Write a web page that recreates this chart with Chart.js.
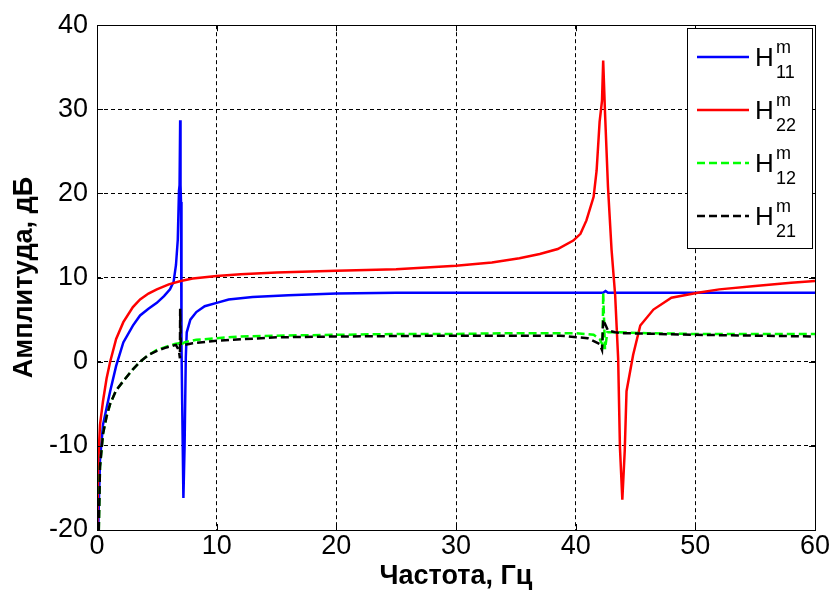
<!DOCTYPE html>
<html>
<head>
<meta charset="utf-8">
<script src="https://cdn.jsdelivr.net/npm/chart.js@4.4.0/dist/chart.umd.min.js"></script>
<style>
  body { margin: 0; background: #fff; }
  canvas { display: block; }
</style>
</head>
<body>
<canvas id="freq_chart" width="832" height="593"></canvas>
<script>
// frequency, Hz / amplitude, dB
var h11Freq = [0.1, 0.25, 0.5, 0.8, 1.1, 1.6, 2.2, 3, 3.6, 4.3, 5, 5.6, 6.1, 6.4, 6.6, 6.75, 6.85, 6.9, 6.95, 6.98, 7.02, 7.06, 7.12, 7.22, 7.32, 7.42, 7.5, 7.8, 8.3, 9, 10, 11, 13, 16, 20, 25, 30, 35, 40, 42.3, 42.5, 42.7, 45, 50, 55, 60];
var h11Amp  = [-20, -11.7, -7.5, -5.5, -3.5, -0.5, 2.3, 4.3, 5.5, 6.3, 7.0, 7.8, 8.6, 9.5, 11.5, 14.5, 20.3, 21, 28.7, 21, 19, 2, -5, -16.2, -10, 0.5, 3.5, 5, 5.9, 6.6, 7.0, 7.4, 7.7, 7.9, 8.1, 8.2, 8.2, 8.2, 8.2, 8.2, 8.4, 8.2, 8.2, 8.2, 8.2, 8.2];

var h22Freq = [0.02, 0.1, 0.25, 0.5, 0.8, 1.1, 1.6, 2.2, 3, 3.6, 4.3, 5, 6, 7, 8, 10, 12, 15, 20, 25, 30, 33, 35.3, 37, 38.5, 39.8, 40.4, 40.9, 41.5, 41.75, 42.0, 42.2, 42.3, 42.45, 42.7, 43.0, 43.3, 43.55, 43.7, 43.9, 44.1, 44.25, 44.8, 45.4, 46.5, 48, 50.2, 52, 55, 58, 60];
var h22Amp  = [-20, -12, -7.5, -4.7, -2, 0, 2.7, 4.7, 6.5, 7.4, 8.1, 8.6, 9.2, 9.6, 9.9, 10.2, 10.4, 10.6, 10.8, 11.0, 11.4, 11.8, 12.3, 12.8, 13.4, 14.4, 15.2, 16.8, 19.6, 22.7, 28.5, 31, 35.8, 29.7, 20.8, 13.3, 7.9, 0.4, -10.2, -16.4, -10.6, -3.5, 0.8, 4.3, 6.2, 7.6, 8.2, 8.6, 9.0, 9.4, 9.6];

var h12Freq = [0.15, 0.25, 0.5, 0.8, 1.1, 1.6, 2.2, 3, 3.6, 4.3, 5, 5.8, 6.5, 6.9, 7.0, 7.1, 7.3, 7.6, 8.3, 10, 12, 15, 20, 25, 30, 35, 40, 41.5, 42.0, 42.25, 42.3, 42.45, 42.65, 43.5, 46, 50, 55, 60];
var h12Amp  = [-20, -12.5, -8.6, -6.5, -5, -3.4, -2.3, -0.9, 0, 0.8, 1.4, 1.8, 2.1, 2.2, 1.9, 2.1, 2.3, 2.4, 2.6, 2.8, 3.0, 3.1, 3.2, 3.3, 3.3, 3.4, 3.4, 3.2, 2.7, 2.0, 8.2, 1.5, 3.5, 3.5, 3.4, 3.3, 3.3, 3.3];

var h21Freq = [0.15, 0.25, 0.5, 0.8, 1.1, 1.6, 2.2, 3, 3.6, 4.3, 5, 5.8, 6.6, 6.85, 6.93, 6.95, 7.0, 7.3, 8, 10, 15, 20, 30, 35, 38.7, 41, 42.0, 42.2, 42.3, 42.7, 43.3, 44, 50, 55, 60];
var h21Amp  = [-20, -12.5, -8.6, -6.5, -5, -3.4, -2.3, -0.9, 0, 0.8, 1.3, 1.7, 2.0, 1.3, 0.4, 6.3, 2.0, 2.0, 2.2, 2.5, 2.9, 3.0, 3.1, 3.1, 3.1, 2.8, 2.1, 1.4, 5.0, 3.7, 3.5, 3.4, 3.2, 3.1, 3.0];

var seriesNames = ['11', '22', '12', '21'];
var xTicks = [0, 10, 20, 30, 40, 50, 60];
var yTicks = [-20, -10, 0, 10, 20, 30, 40];

var FONT = "'Liberation Sans', Arial, sans-serif";

function toPoints(freq, amp) {
  return freq.map(function(f, i) { return { x: f, y: amp[i] }; });
}

// box around the axes with inward ticks, like matlab
var boxPlugin = {
  id: 'boxPlugin',
  afterDatasetsDraw: function(chart) {
    var ctx = chart.ctx;
    var a = chart.chartArea;
    var xs = chart.scales.x, ys = chart.scales.y;
    ctx.save();
    ctx.strokeStyle = '#000';
    ctx.lineWidth = 1;
    ctx.setLineDash([]);
    ctx.strokeRect(Math.round(a.left) + 0.5, Math.round(a.top) + 0.5, Math.round(a.right - a.left), Math.round(a.bottom - a.top));
    ctx.beginPath();
    xTicks.forEach(function(t) {
      var px = Math.round(xs.getPixelForValue(t)) + 0.5;
      ctx.moveTo(px, a.bottom); ctx.lineTo(px, a.bottom - 6);
      ctx.moveTo(px, a.top); ctx.lineTo(px, a.top + 6);
    });
    yTicks.forEach(function(t) {
      var py = Math.round(ys.getPixelForValue(t)) + 0.5;
      ctx.moveTo(a.left, py); ctx.lineTo(a.left + 6, py);
      ctx.moveTo(a.right, py); ctx.lineTo(a.right - 6, py);
    });
    ctx.stroke();
    ctx.restore();
  }
};

// legend with H^m_ij labels
var legendPlugin = {
  id: 'matlabLegend',
  afterDraw: function(chart) {
    var ctx = chart.ctx;
    var bx = 687.5, by = 28.5, bw = 125, bh = 220;
    ctx.save();
    ctx.fillStyle = '#fff';
    ctx.fillRect(bx, by, bw, bh);
    ctx.strokeStyle = '#000';
    ctx.lineWidth = 1;
    ctx.strokeRect(bx, by, bw, bh);
    chart.data.datasets.forEach(function(ds, i) {
      var y = 57 + i * 53;
      ctx.beginPath();
      ctx.setLineDash(ds.borderDash || []);
      ctx.strokeStyle = ds.borderColor;
      ctx.lineWidth = 2.5;
      ctx.moveTo(697, y);
      ctx.lineTo(749, y);
      ctx.stroke();
      ctx.setLineDash([]);
      ctx.fillStyle = '#000';
      ctx.textBaseline = 'alphabetic';
      ctx.textAlign = 'left';
      ctx.font = '26px ' + FONT;
      ctx.fillText('H', 755, y + 9);
      ctx.font = '18px ' + FONT;
      ctx.fillText('m', 776, y - 4);
      ctx.fillText(seriesNames[i], 776, y + 21);
    });
    ctx.restore();
  }
};

var chart_config = {
  type: 'line',
  data: {
    datasets: [{
      label: 'H11',
      data: toPoints(h11Freq, h11Amp),
      borderColor: '#0000ff',
      borderWidth: 2.5,
      order: 4
    }, {
      label: 'H22',
      data: toPoints(h22Freq, h22Amp),
      borderColor: '#ff0000',
      borderWidth: 2.5,
      order: 3
    }, {
      label: 'H12',
      data: toPoints(h12Freq, h12Amp),
      borderColor: '#00ff00',
      borderWidth: 2.5,
      borderDash: [8, 4],
      order: 2
    }, {
      label: 'H21',
      data: toPoints(h21Freq, h21Amp),
      borderColor: '#000000',
      borderWidth: 2.5,
      borderDash: [8, 4],
      order: 1
    }]
  },
  options: {
    responsive: false,
    animation: false,
    layout: { padding: { top: 19, right: 17, bottom: 0, left: 0 } },
    elements: { point: { radius: 0 }, line: { tension: 0 } },
    plugins: {
      legend: { display: false },
      tooltip: { enabled: false }
    },
    scales: {
      x: {
        type: 'linear',
        min: 0,
        max: 60,
        afterFit: function(scale) { scale.height = 63; },
        afterBuildTicks: function(scale) { scale.ticks = xTicks.map(function(v) { return { value: v }; }); },
        ticks: { color: '#000', font: { family: FONT, size: 27 }, padding: 0, maxRotation: 0 },
        grid: { color: '#000', lineWidth: 1, drawTicks: false },
        border: { display: false, dash: [4, 3] },
        title: { display: true, text: 'Частота, Гц', color: '#000', font: { family: FONT, size: 27, weight: 'bold' }, padding: { top: 0, bottom: 0 } }
      },
      y: {
        type: 'linear',
        min: -20,
        max: 40,
        afterFit: function(scale) { scale.width = 97; },
        afterBuildTicks: function(scale) { scale.ticks = yTicks.map(function(v) { return { value: v }; }); },
        ticks: { color: '#000', font: { family: FONT, size: 27 }, padding: 9 },
        grid: { color: '#000', lineWidth: 1, drawTicks: false },
        border: { display: false, dash: [4, 3] },
        title: { display: true, text: 'Амплитуда, дБ', color: '#000', font: { family: FONT, size: 27, weight: 'bold' }, padding: { top: 8, bottom: 0 } }
      }
    }
  },
  plugins: [boxPlugin, legendPlugin]
};

window.onload = function() {
  var ctx = document.getElementById('freq_chart').getContext('2d');
  var freq_chart = new Chart(ctx, chart_config);
};
</script>
</body>
</html>
